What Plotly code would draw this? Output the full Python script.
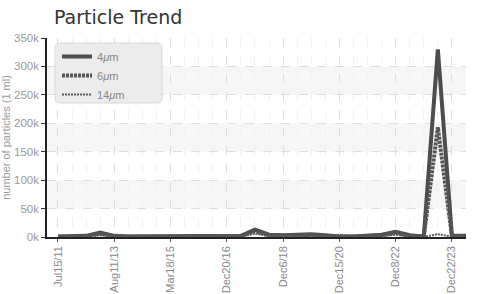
import plotly.graph_objects as go

tick_labels = ["Jul15/11", "Aug11/13", "Mar18/15", "Dec20/16", "Dec6/18", "Dec15/20", "Dec8/22", "Dec22/23"]
tick_index = [0, 4, 8, 12, 16, 20, 24, 28]

x_index = list(range(30))
p4 = [1000, 1000, 2000, 8000, 2000, 1000, 1000, 1000, 1000, 1000, 1000, 1000, 1000, 2000, 13000,
      4000, 3000, 4000, 5000, 3000, 1000, 1000, 2000, 4000, 9000, 3000, 1000, 330000, 2000, 2000]
p6 = [800, 800, 1500, 6000, 1500, 800, 800, 800, 800, 800, 800, 800, 800, 1500, 10000,
      3000, 2000, 3000, 3500, 2000, 800, 800, 1500, 3000, 7000, 2000, 800, 193000, 1500, 1500]
p14 = [300, 300, 800, 3000, 800, 300, 300, 300, 300, 300, 300, 300, 300, 800, 6000,
       1500, 1000, 1500, 2000, 1000, 300, 300, 800, 1500, 4000, 1000, 300, 5000, 800, 800]

y_ticks = [0, 50000, 100000, 150000, 200000, 250000, 300000, 350000]
y_labels = ["0k", "50k", "100k", "150k", "200k", "250k", "300k", "350k"]

NARROW = "Liberation Sans Narrow, Liberation Sans, Arial, sans-serif"

fig = go.Figure()
fig.add_trace(go.Scatter(x=x_index, y=p4, mode="lines", name="4<i>μ</i>m",
                         line=dict(color="#4d4d4d", width=4)))
fig.add_trace(go.Scatter(x=x_index, y=p6, mode="lines", name="6<i>μ</i>m",
                         line=dict(color="#555555", width=4, dash="3px,1px")))
fig.add_trace(go.Scatter(x=x_index, y=p14, mode="lines", name="14<i>μ</i>m",
                         line=dict(color="#5a5a5a", width=2, dash="2px,1px")))

# alternating bands
for lo, hi in [(50000, 100000), (150000, 200000), (250000, 300000)]:
    fig.add_shape(type="rect", xref="paper", yref="y", x0=0, x1=1, y0=lo, y1=hi,
                  fillcolor="#f6f6f6", line=dict(width=0), layer="below")

# rounded legend box (paper coords: plot x 47..466 -> 419 px, y 38..237 -> 199 px)
x0, x1, y0, y1, r = 8 / 419, 115 / 419, (237 - 103) / 199, (237 - 43) / 199, 0.012
fig.add_shape(type="path", xref="paper", yref="paper",
              path=(f"M {x0+r},{y0} L {x1-r},{y0} Q {x1},{y0} {x1},{y0+r*2} "
                    f"L {x1},{y1-r*2} Q {x1},{y1} {x1-r},{y1} L {x0+r},{y1} "
                    f"Q {x0},{y1} {x0},{y1-r*2} L {x0},{y0+r*2} Q {x0},{y0} {x0+r},{y0} Z"),
              fillcolor="#ececec", line=dict(color="#d8d8d8", width=1), layer="above")

fig.update_layout(
    width=477, height=294,
    margin=dict(l=47, r=11, t=38, b=57, autoexpand=False),
    paper_bgcolor="white", plot_bgcolor="white",
    title=dict(text="Particle Trend", x=54 / 477, xref="container", xanchor="left",
               y=1 - 17 / 294, yref="container", yanchor="middle",
               font=dict(family="DejaVu Sans", size=19, color="#333333")),
    showlegend=True,
    legend=dict(x=10 / 419, y=(237 - 42) / 199, xanchor="left", yanchor="top", bgcolor="rgba(0,0,0,0)",
                font=dict(family=NARROW, size=11, color="#888888"),
                tracegroupgap=0, itemwidth=30),
    font=dict(family=NARROW, color="#999999"),
)

fig.update_xaxes(
    range=[-0.78, 29], tickvals=tick_index, ticktext=tick_labels, tickangle=-90,
    showline=True, linecolor="#222222", linewidth=1.5, automargin=False,
    showgrid=True, gridcolor="#dddddd", griddash="dash", gridwidth=1,
    minor=dict(dtick=1, tick0=0, showgrid=True, gridcolor="#f0f0f0", griddash="dash", gridwidth=1),
    ticks="outside", ticklen=3, tickcolor="#555555",
    tickfont=dict(size=11, color="#888888"), zeroline=False,
)
fig.update_yaxes(
    range=[0, 350000], tickvals=y_ticks, ticktext=y_labels,
    showline=True, linecolor="#222222", linewidth=1.5, automargin=False,
    showgrid=True, gridcolor="#dddddd", griddash="dash", gridwidth=1,
    ticks="outside", ticklen=4, tickcolor="#333333",
    tickfont=dict(size=11.5, color="#999999"), zeroline=False,
    title=dict(text="number of particles (1 ml)", font=dict(size=11, color="#999999"), standoff=4),
)

fig.write_html("out.html", config={"displayModeBar": False},
               post_script="document.body.style.margin='0';")
